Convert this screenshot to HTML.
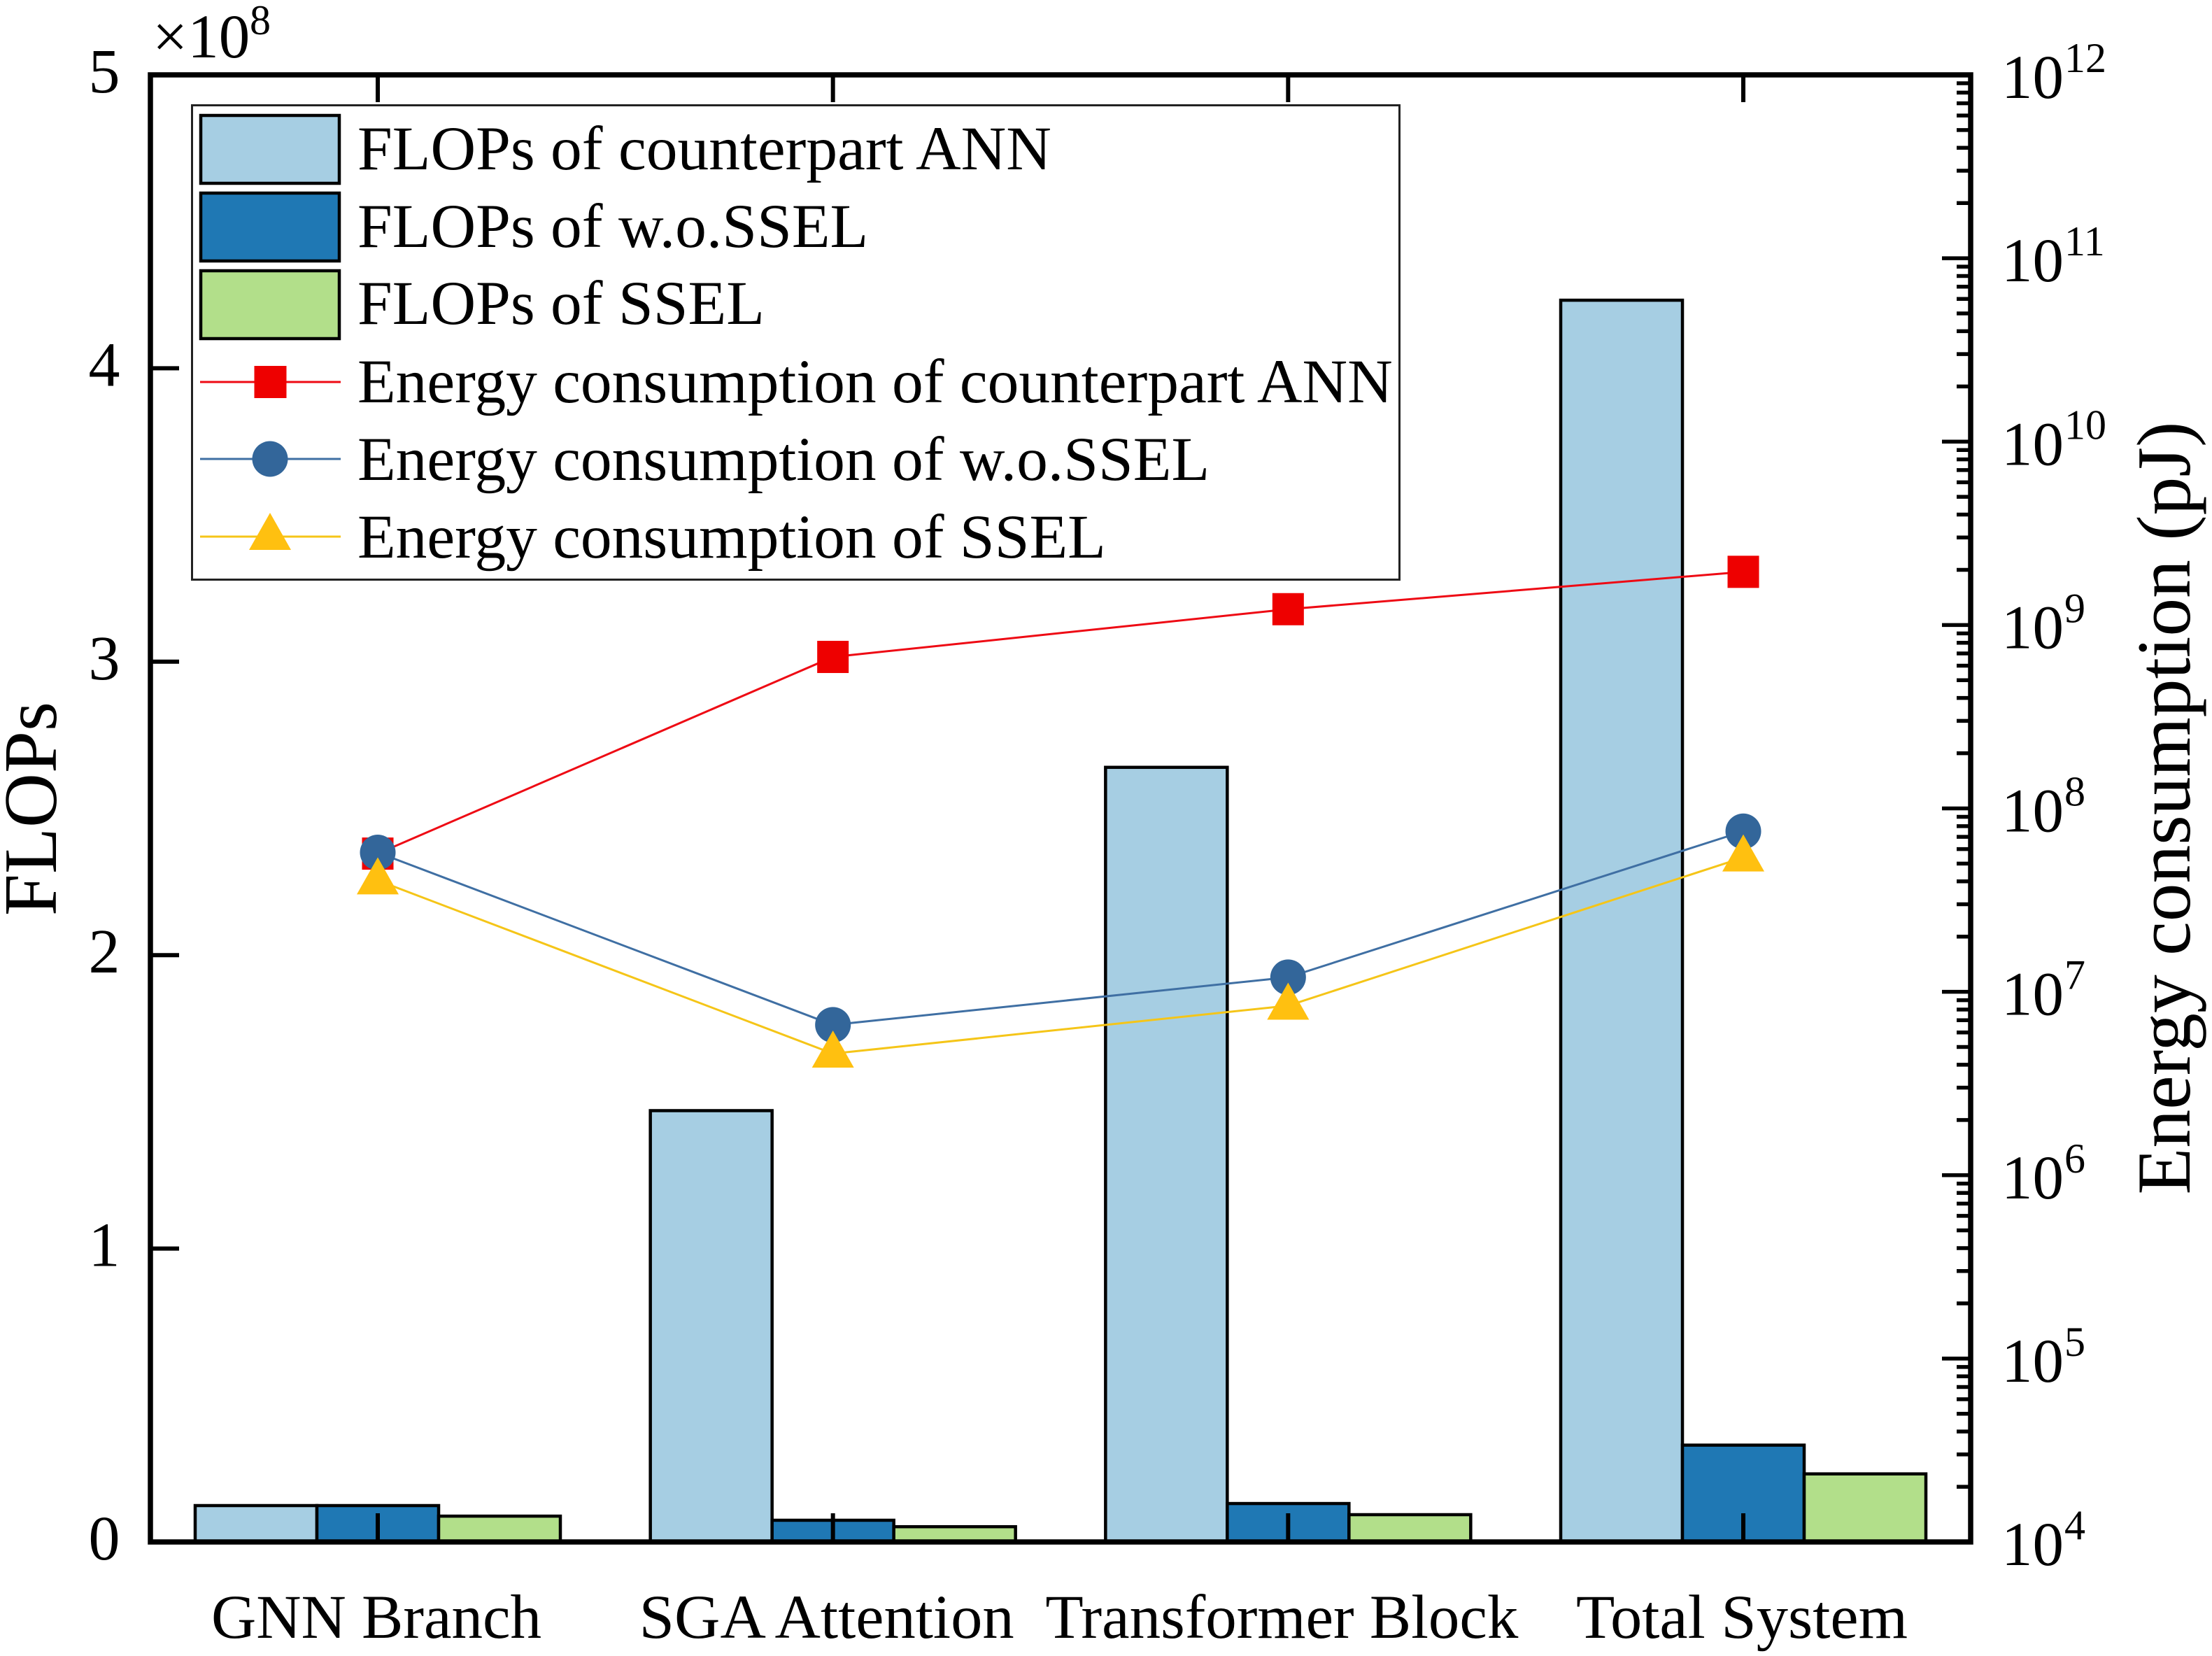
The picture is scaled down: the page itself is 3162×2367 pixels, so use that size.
<!DOCTYPE html>
<html lang="en">
<head>
<meta charset="utf-8">
<title>FLOPs and energy consumption chart</title>
<style>
html,body{margin:0;padding:0;background:#fff;}
svg{display:block;font-family:"Liberation Serif",serif;fill:#000;}
</style>
</head>
<body>
<svg id="chart" xmlns="http://www.w3.org/2000/svg" width="3162" height="2367" viewBox="0 0 3162 2367">
  <rect x="0" y="0" width="3162" height="2367" fill="#fff"/>
  <g id="bars"></g>
  <g id="axes"></g>
  <g id="lines"></g>

  <text font-size="89" y="82"><tspan x="218">×10</tspan><tspan x="357" y="49" font-size="60">8</tspan></text>
  <text font-size="108" text-anchor="middle" x="80" y="1156" transform="rotate(-90 80 1156)">FLOPs</text>
  <text font-size="109.5" text-anchor="middle" x="3130" y="1155" transform="rotate(-90 3130 1155)">Energy consumption (pJ)</text>

  <g>
    <rect x="274.5" y="150.5" width="1726" height="678" fill="#fff" stroke="#222" stroke-width="3"/>
    <rect x="287" y="165" width="198" height="97" fill="#A6CEE3" stroke="#000" stroke-width="4.5"/>
    <rect x="287" y="276" width="198" height="97" fill="#1F78B4" stroke="#000" stroke-width="4.5"/>
    <rect x="287" y="387" width="198" height="97" fill="#B2DF8A" stroke="#000" stroke-width="4.5"/>
    <line x1="286" x2="487" y1="546" y2="546" stroke="#EE0A14" stroke-width="3"/>
    <rect x="363.5" y="523" width="46" height="46" fill="#EE0000"/>
    <line x1="286" x2="487" y1="656" y2="656" stroke="#3F6FA3" stroke-width="3"/>
    <circle cx="386" cy="656" r="25.5" fill="#33669A"/>
    <line x1="286" x2="487" y1="767" y2="767" stroke="#F5C518" stroke-width="3"/>
    <polygon points="386,733 416,786 356,786" fill="#FFC010"/>
    <g font-size="89.5">
      <text x="511" y="242">FLOPs of counterpart ANN</text>
      <text x="511" y="353">FLOPs of w.o.SSEL</text>
      <text x="511" y="463">FLOPs of SSEL</text>
      <text x="511" y="575">Energy consumption of counterpart ANN</text>
      <text x="511" y="686">Energy consumption of w.o.SSEL</text>
      <text x="511" y="797">Energy consumption of SSEL</text>
    </g>
  </g>
</svg>
<script>
/* ---------- data ---------- */
const categories = ["GNN Branch", "SGA Attention", "Transformer Block", "Total System"];
const flopsAnn = [0.124, 1.47, 2.64, 4.232];
const flopsWoSsel = [0.124, 0.074, 0.131, 0.33];
const flopsSsel = [0.088, 0.052, 0.093, 0.232];
const energyAnn = [5.67e7, 6.7e8, 1.22e9, 1.95e9];
const energyWoSsel = [5.75e7, 6.6e6, 1.2e7, 7.5e7];
const energySsel = [4.05e7, 4.6e6, 8.4e6, 5.4e7];
const leftTicks = [0, 1, 2, 3, 4, 5];
const rightExponents = [4, 5, 6, 7, 8, 9, 10, 11, 12];
const minorMultipliers = [2, 3, 4, 5, 6, 7, 8, 9];

/* ---------- axis functions ---------- */
const plotLeft = 215, plotRight = 2817, plotTop = 107, plotBottom = 2204;
const leftMax = 5, logMin = 4, logMax = 12;
const NS = "http://www.w3.org/2000/svg";
function xCat(i) { return 540 + i * 650.67; }
function yLeft(v) { return plotBottom - (v / leftMax) * (plotBottom - plotTop); }
function yRight(v) { return plotBottom - (Math.log10(v) - logMin) / (logMax - logMin) * (plotBottom - plotTop); }
function make(tag, parent, attrs) {
  const el = document.createElementNS(NS, tag);
  for (const k in attrs) el.setAttribute(k, attrs[k]);
  parent.appendChild(el);
  return el;
}

/* ---------- bars ---------- */
const barsG = document.getElementById("bars");
const barWidth = 174;
const barFills = ["#A6CEE3", "#1F78B4", "#B2DF8A"];
const barKeys = ["ann", "wo-ssel", "ssel"];
[flopsAnn, flopsWoSsel, flopsSsel].forEach(function (series, s) {
  series.forEach(function (v, i) {
    const x = xCat(i) + (s - 1.5) * barWidth;
    const r = make("rect", barsG, { x: x, y: yLeft(v), width: barWidth, height: yLeft(0) - yLeft(v), fill: barFills[s], stroke: "#000", "stroke-width": 4.5 });
    
    
  });
});

/* ---------- axes ---------- */
const axesG = document.getElementById("axes");
const frame = make("rect", axesG, { x: plotLeft, y: plotTop, width: plotRight - plotLeft, height: plotBottom - plotTop, fill: "none", stroke: "#000", "stroke-width": 7.5 });



leftTicks.forEach(function (v) {
  const y = yLeft(v);
  const t = make("line", axesG, { x1: plotLeft, x2: 256, y1: y, y2: y, stroke: "#000", "stroke-width": 6 });
  
  
  const l = make("text", axesG, { x: 149, y: y + 25, "font-size": 90, "text-anchor": "middle" });
  l.textContent = v;
  
  
});

rightExponents.forEach(function (e) {
  const y = yRight(Math.pow(10, e));
  const t = make("line", axesG, { x1: 2776, x2: plotRight, y1: y, y2: y, stroke: "#000", "stroke-width": 5.5 });
  
  
  const l = make("text", axesG, { "font-size": 89 });
  const base = make("tspan", l, { x: 2861, y: y + 33 });
  base.textContent = "10";
  const sup = make("tspan", l, { x: 2951, y: y - 4, "font-size": 60 });
  sup.textContent = e;
  
  
  if (e < logMax) {
    minorMultipliers.forEach(function (m) {
      const my = yRight(m * Math.pow(10, e));
      const mt = make("line", axesG, { x1: 2797, x2: plotRight, y1: my, y2: my, stroke: "#000", "stroke-width": 5.5 });
      
      
    });
  }
});

const labelNudge = [-2, -9, -9, -2];
const labelFit = [472, 536, 676, 474];
categories.forEach(function (c, i) {
  const x = xCat(i);
  const tt = make("line", axesG, { x1: x, x2: x, y1: plotTop, y2: 146, stroke: "#000", "stroke-width": 6 });
  
  
  const bt = make("line", axesG, { x1: x, x2: x, y1: 2163, y2: plotBottom, stroke: "#000", "stroke-width": 6 });
  
  
  const l = make("text", axesG, { x: x + labelNudge[i], y: 2341, "font-size": 89, "text-anchor": "middle", textLength: labelFit[i], lengthAdjust: "spacingAndGlyphs" });
  l.textContent = c;
  
  
});

/* ---------- energy lines and markers ---------- */
const linesG = document.getElementById("lines");
function polyline(values, color, name) {
  const pts = values.map(function (v, i) { return xCat(i) + "," + yRight(v); }).join(" ");
  const p = make("polyline", linesG, { points: pts, fill: "none", stroke: color, "stroke-width": 3 });
  
  
}
polyline(energyAnn, "#EE0A14", "energy-line-ann");
polyline(energyWoSsel, "#3F6FA3", "energy-line-wo-ssel");
polyline(energySsel, "#F5C518", "energy-line-ssel");

energyAnn.forEach(function (v, i) {
  const m = make("rect", linesG, { x: xCat(i) - 22.5, y: yRight(v) - 23, width: 45, height: 46, fill: "#EE0000" });
  
  
});
energyWoSsel.forEach(function (v, i) {
  const m = make("circle", linesG, { cx: xCat(i), cy: yRight(v), r: 25.5, fill: "#33669A" });
  
  
});
energySsel.forEach(function (v, i) {
  const x = xCat(i), y = yRight(v);
  const pts = x + "," + (y - 33) + " " + (x + 30) + "," + (y + 20) + " " + (x - 30) + "," + (y + 20);
  const m = make("polygon", linesG, { points: pts, fill: "#FFC010" });
  
  
});
</script>
</body>
</html>
